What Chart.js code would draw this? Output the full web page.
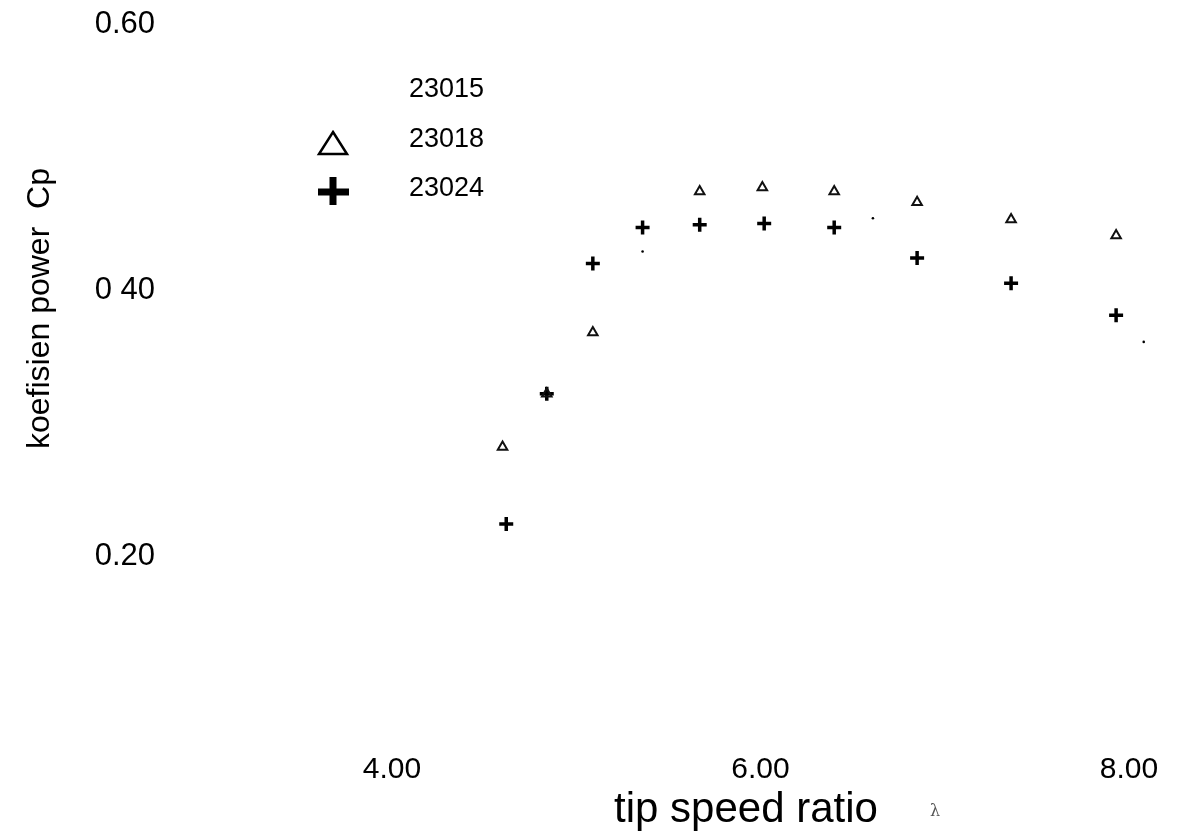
<!DOCTYPE html>
<html>
<head>
<meta charset="utf-8">
<script src="https://cdn.jsdelivr.net/npm/chart.js@4/dist/chart.umd.min.js"></script>
<style>
  body { margin: 0; background: #fff; overflow: hidden; }
  canvas { display: block; }
</style>
</head>
<body>
<canvas id="chart1" width="1177" height="834"></canvas>
<script>
    // series names (legend)
    var seriesNames = ['23015', '23018', '23024'];

    // tip speed ratio (x) and Cp (y)
    var x23015 = [5.36, 6.61, 8.08];
    var y23015 = [0.429, 0.454, 0.361];

    var x23018 = [4.60, 4.84, 5.09, 5.67, 6.01, 6.40, 6.85, 7.36, 7.93];
    var y23018 = [0.282, 0.322, 0.368, 0.474, 0.477, 0.474, 0.466, 0.453, 0.441];

    var x23024 = [4.62, 4.84, 5.09, 5.36, 5.67, 6.02, 6.40, 6.85, 7.36, 7.93];
    var y23024 = [0.224, 0.322, 0.420, 0.447, 0.449, 0.450, 0.447, 0.424, 0.405, 0.381];

    // axis ticks
    var xTicks = [4, 6, 8];
    var yTicks = [0.2, 0.4, 0.6];
    var yTickLabels = ['0.20', '0 40', '0.60'];

    function pts(xs, ys) {
        return xs.map(function (x, i) { return { x: x, y: ys[i] }; });
    }

    // legend + x title drawn as plain text (positions)
    var scanText = {
        id: 'scanText',
        afterDraw: function (chart) {
            var ctx = chart.ctx;
            ctx.save();
            ctx.fillStyle = '#000';
            ctx.strokeStyle = '#000';
            ctx.textBaseline = 'middle';
            ctx.font = '27px "Liberation Sans", Arial, sans-serif';
            var rows = [90, 140, 189];
            seriesNames.forEach(function (name, i) {
                ctx.fillText(name, 409, rows[i]);
            });
            // triangle marker
            ctx.lineWidth = 2.5;
            ctx.beginPath();
            ctx.moveTo(333, 132);
            ctx.lineTo(347, 154);
            ctx.lineTo(319, 154);
            ctx.closePath();
            ctx.stroke();
            // plus marker
            ctx.lineWidth = 7;
            ctx.beginPath();
            ctx.moveTo(318, 192); ctx.lineTo(349, 192);
            ctx.moveTo(333, 177); ctx.lineTo(333, 205);
            ctx.stroke();

            ctx.textAlign = 'center';
            ctx.font = '42px "Liberation Sans", Arial, sans-serif';
            ctx.fillText('tip speed ratio', 746, 810);
            ctx.font = '16px "DejaVu Serif", serif';
            ctx.fillStyle = '#555';
            ctx.fillText('λ', 935, 812);
            ctx.restore();
        }
    };

    var ctx1 = document.getElementById('chart1').getContext('2d');
    var chart1 = new Chart(ctx1, {
        type: 'scatter',
        data: {
            datasets: [{
                label: seriesNames[0],
                data: pts(x23015, y23015),
                pointStyle: 'circle',
                pointRadius: 1.3,
                backgroundColor: '#000',
                borderColor: '#000',
                borderWidth: 0
            }, {
                label: seriesNames[1],
                data: pts(x23018, y23018),
                pointStyle: 'triangle',
                pointRadius: 5.5,
                backgroundColor: 'rgba(0,0,0,0)',
                borderColor: '#111',
                borderWidth: 2
            }, {
                label: seriesNames[2],
                data: pts(x23024, y23024),
                pointStyle: 'cross',
                pointRadius: 7,
                backgroundColor: '#000',
                borderColor: '#000',
                borderWidth: 3.5
            }]
        },
        plugins: [scanText],
        options: {
            responsive: false,
            animation: false,
            layout: { padding: { top: 20, left: 0, right: 0, bottom: 0 } },
            plugins: {
                legend: { display: false },
                tooltip: { enabled: false }
            },
            scales: {
                x: {
                    type: 'linear',
                    min: 2.7734,
                    max: 8.2035,
                    afterBuildTicks: function (s) { s.ticks = xTicks.map(function (v) { return { value: v }; }); },
                    afterFit: function (s) { s.height = 237; },
                    grid: { display: true, drawOnChartArea: false, drawTicks: true, tickLength: 155, color: 'rgba(0,0,0,0)', tickColor: 'rgba(0,0,0,0)' },
                    border: { display: false },
                    ticks: {
                        padding: 0,
                        color: '#000',
                        font: { family: '"Liberation Sans", Arial, sans-serif', size: 30 },
                        callback: function (v) { return v.toFixed(2); }
                    }
                },
                y: {
                    type: 'linear',
                    min: 0.1692,
                    max: 0.603,
                    afterBuildTicks: function (s) { s.ticks = yTicks.map(function (v) { return { value: v }; }); },
                    afterFit: function (s) { s.width = 166; },
                    grid: { display: true, drawOnChartArea: false, drawTicks: true, tickLength: 11, color: 'rgba(0,0,0,0)', tickColor: 'rgba(0,0,0,0)' },
                    border: { display: false },
                    ticks: {
                        padding: 0,
                        color: '#000',
                        font: { family: '"Liberation Sans", Arial, sans-serif', size: 31 },
                        callback: function (v) { return yTickLabels[yTicks.indexOf(v)]; }
                    },
                    title: {
                        display: true,
                        text: 'koefisien power  Cp',
                        color: '#000',
                        padding: { top: 21, bottom: 0 },
                        font: { family: '"Liberation Sans", Arial, sans-serif', size: 32 }
                    }
                }
            }
        }
    });
</script>
</body>
</html>
